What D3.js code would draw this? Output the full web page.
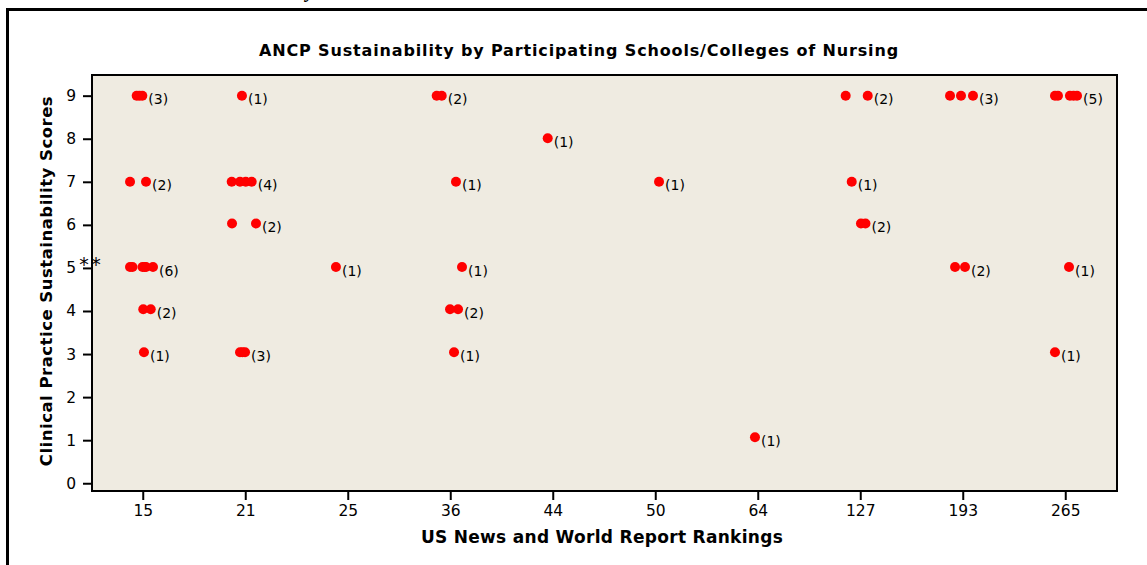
<!DOCTYPE html>
<html>
<head>
<meta charset="utf-8">
<script src="https://cdn.jsdelivr.net/npm/d3@7"></script>
<style>
  html, body { margin: 0; padding: 0; background: #ffffff; }
  svg { display: block; }
  text { font-family: "DejaVu Sans", Verdana, sans-serif; fill: #000; }
</style>
</head>
<body>
<svg id="chart" width="1147" height="565"></svg>
<script>
// US News and World Report ranking categories along the x axis
const rankings = ["15", "21", "25", "36", "44", "50", "64", "127", "193", "265"];
// Score ticks on the y axis
const scoreTicks = [0, 1, 2, 3, 4, 5, 6, 7, 8, 9];

// One entry per cluster of schools sharing a ranking and a score
const clusterRank  = ["15", "15", "15", "15", "15",
                      "21", "21", "21", "21",
                      "25",
                      "36", "36", "36", "36", "36",
                      "44", "50", "64",
                      "127", "127", "127",
                      "193", "193",
                      "265", "265", "265"];
const clusterScore = [9, 7, 5.02, 4.04, 3.04,
                      9, 7, 6.03, 3.04,
                      5.02,
                      9, 7, 5.02, 4.04, 3.04,
                      8.01, 7, 1.07,
                      9, 7, 6.03,
                      9, 5.02,
                      9, 5.02, 3.04];
const clusterCount = [3, 2, 6, 2, 1,
                      1, 4, 2, 3,
                      1,
                      2, 1, 1, 2, 1,
                      1, 1, 1,
                      2, 1, 2,
                      3, 2,
                      5, 1, 1];
// Horizontal jitter of each school inside its ranking band (band widths)
const clusterJitter = [
  [-0.064, -0.037, -0.009],
  [-0.129, 0.027],
  [-0.129, -0.105, -0.007, 0.012, 0.027, 0.095],
  [0.000, 0.073],
  [0.007],
  [-0.037],
  [-0.137, -0.056, 0.000, 0.058],
  [-0.134, 0.100],
  [-0.056, -0.032, -0.007],
  [-0.120],
  [-0.137, -0.088],
  [0.051],
  [0.110],
  [-0.007, 0.071],
  [0.032],
  [-0.054],
  [0.032],
  [-0.032],
  [-0.147, 0.068],
  [-0.088],
  [0.002, 0.046],
  [-0.129, -0.022, 0.095],
  [-0.080, 0.017],
  [-0.105, -0.076, 0.041, 0.076, 0.110],
  [0.032],
  [-0.105]
];

const svg = d3.select("#chart");
const plot = { left: 92, right: 1117, top: 75, bottom: 491 };

const x = d3.scaleBand().domain(rankings).range([plot.left, plot.right]).padding(0);
const y = d3.scaleLinear().domain([-0.18, 9.48]).range([plot.bottom, plot.top]);

// Page fragment above the figure frame
svg.append("text")
  .attr("x", 306).attr("y", -3)
  .style("font-family", "'Liberation Serif', serif")
  .style("font-style", "italic").style("font-weight", "bold")
  .style("font-size", "20px")
  .text("y");

// Figure frame
svg.append("path")
  .attr("d", `M7.5,${565 + 5} L7.5,9.5 L${1147 + 5},9.5`)
  .attr("fill", "none").attr("stroke", "#000").attr("stroke-width", 3);

// Title
svg.append("text")
  .attr("x", 579).attr("y", 56)
  .attr("text-anchor", "middle")
  .style("font-size", "16px").style("font-weight", "bold")
  .style("letter-spacing", "0.85px")
  .text("ANCP Sustainability by Participating Schools/Colleges of Nursing");

// Plot background
svg.append("rect")
  .attr("x", plot.left).attr("y", plot.top)
  .attr("width", plot.right - plot.left).attr("height", plot.bottom - plot.top)
  .attr("fill", "#efebe1");

// Axes
const xAxis = svg.append("g")
  .attr("transform", `translate(0,${plot.bottom})`)
  .call(d3.axisBottom(x).tickSize(9).tickPadding(5).tickSizeOuter(0));
const yAxis = svg.append("g")
  .attr("transform", `translate(${plot.left},0)`)
  .call(d3.axisLeft(y).tickValues(scoreTicks).tickFormat(d3.format("d"))
        .tickSize(9).tickPadding(7).tickSizeOuter(0));
[xAxis, yAxis].forEach(g => {
  g.select(".domain").remove();
  g.selectAll(".tick line").attr("stroke", "#000").attr("stroke-width", 2);
  g.selectAll(".tick text")
    .style("font-family", "'DejaVu Sans', Verdana, sans-serif")
    .style("font-size", "15.5px").attr("fill", "#000");
});

// Plot border
svg.append("rect")
  .attr("x", plot.left).attr("y", plot.top)
  .attr("width", plot.right - plot.left).attr("height", plot.bottom - plot.top)
  .attr("fill", "none").attr("stroke", "#000").attr("stroke-width", 2);

// Asterisks beside score 5
svg.append("text").attr("x", 84).attr("y", 271).attr("text-anchor", "middle")
  .style("font-size", "19px").text("*");
svg.append("text").attr("x", 96).attr("y", 271).attr("text-anchor", "middle")
  .style("font-size", "19px").text("*");

// Axis titles
svg.append("text")
  .attr("x", 602).attr("y", 543)
  .attr("text-anchor", "middle")
  .style("font-size", "17px").style("font-weight", "bold")
  .style("letter-spacing", "0.3px")
  .text("US News and World Report Rankings");
svg.append("text")
  .attr("transform", `translate(52,${(plot.top + plot.bottom) / 2 - 2}) rotate(-90)`)
  .attr("text-anchor", "middle")
  .style("font-size", "16.5px").style("font-weight", "bold")
  .style("letter-spacing", "0.5px")
  .text("Clinical Practice Sustainability Scores");

// Schools: one dot each, grouped by ranking and score
const band = x.bandwidth();
const clusters = clusterRank.map((r, i) => {
  const cx = x(r) + band / 2;
  const xs = clusterJitter[i].slice(0, clusterCount[i]).map(j => cx + j * band);
  return { rank: r, score: clusterScore[i], count: clusterCount[i], xs };
});

const g = svg.append("g");
clusters.forEach(c => {
  g.selectAll(null).data(c.xs).enter().append("circle")
    .attr("cx", d => d).attr("cy", y(c.score)).attr("r", 5)
    .attr("fill", "#ff0000");
  g.append("text")
    .attr("x", d3.max(c.xs) + 6).attr("y", y(c.score) + 8.5)
    .style("font-size", "14px")
    .text(`(${c.count})`);
});
</script>
</body>
</html>
